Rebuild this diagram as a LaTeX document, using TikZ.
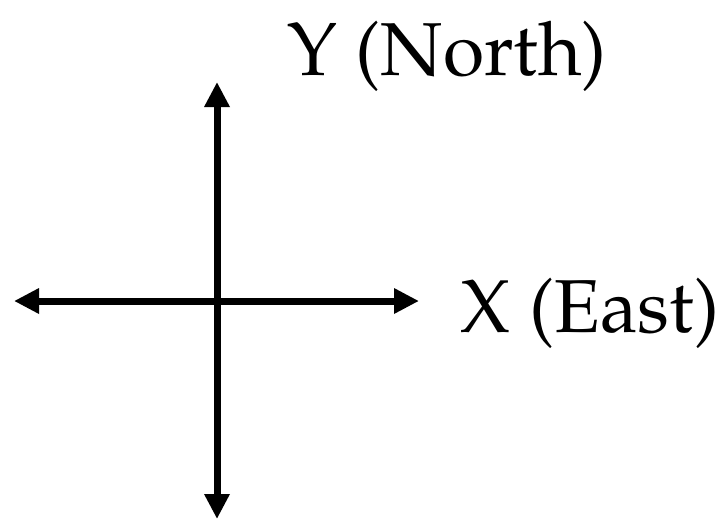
\documentclass[tikz,border=0pt]{standalone}
\usepackage[T1]{fontenc}
\usepackage{mathpazo}
\usetikzlibrary{arrows.meta}
\begin{document}
\begin{tikzpicture}[
  x=0.5pt, y=-0.5pt,
  axisline/.style = {line width=3.5pt, black,
    {Triangle[length=12.5pt, width=12pt]}-{Triangle[length=12.5pt, width=12pt]}},
  axislbl/.style = {anchor=base, inner sep=0pt,
    font=\fontsize{37.5}{45}\selectfont}
]
  \useasboundingbox (0,0) rectangle (728,520);
  % axis ends
  \coordinate (north) at (217,82);
  \coordinate (south) at (217,519);
  \coordinate (west) at (14,301);
  \coordinate (east) at (419,301);
  % axes
  \draw[axisline] (west) -- (east);
  \draw[axisline] (south) -- (north);
  % labels
  \node[axislbl] (ylbl) at (447,75) {Y (North)};
  \node[axislbl] (xlbl) at (590,332) {X (East)};
\end{tikzpicture}
\end{document}
